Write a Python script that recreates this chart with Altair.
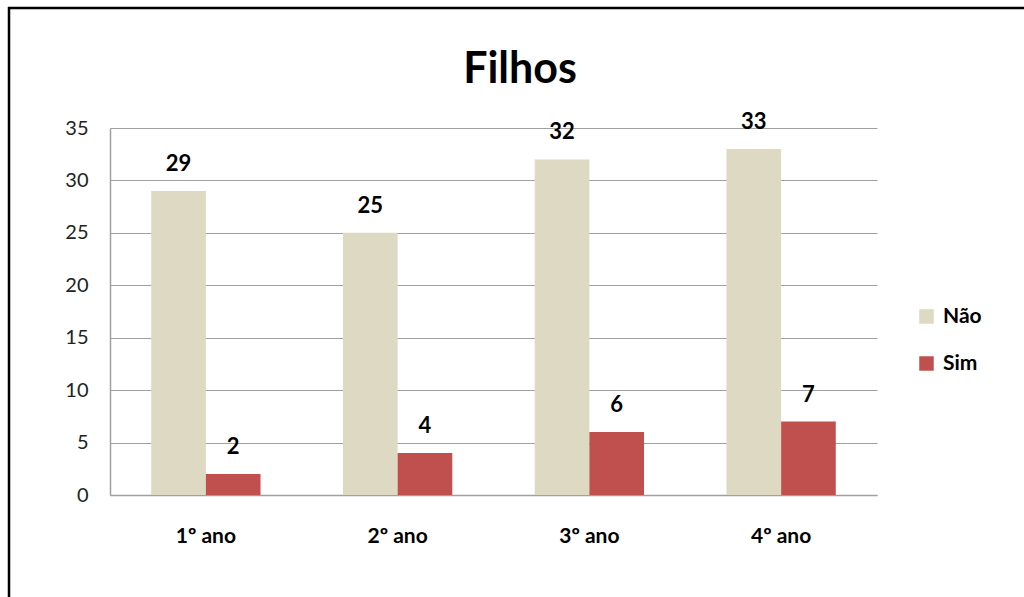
import altair as alt
import pandas as pd

# Number of students with / without children per school year
anos = ["1º ano", "2º ano", "3º ano", "4º ano"]
series = ["Não", "Sim"]
nao = [29, 25, 32, 33]
sim = [2, 4, 6, 7]
cores = ["#DDD9C3", "#C0504D"]
titulo = "Filhos"

rows = []
for i, ano in enumerate(anos):
    rows.append({"ano": ano, "serie": "Não", "valor": nao[i]})
    rows.append({"ano": ano, "serie": "Sim", "valor": sim[i]})
df = pd.DataFrame(rows)

FONT = "Lato"

base = alt.Chart(df).encode(
    x=alt.X(
        "ano:N",
        sort=anos,
        title=None,
        scale=alt.Scale(paddingInner=0.43, paddingOuter=0.215),
        axis=alt.Axis(
            labelAngle=0,
            labelFontSize=21,
            labelFontWeight="bold",
            labelColor="#000000",
            labelPadding=30,
            ticks=False,
            domainColor="#a0a0a0",
            domainWidth=1.5,
        ),
    ),
    xOffset=alt.XOffset("serie:N", sort=series),
)

bars = base.mark_bar().encode(
    y=alt.Y(
        "valor:Q",
        title=None,
        scale=alt.Scale(domain=[0, 35], nice=False),
        axis=alt.Axis(
            values=[0, 5, 10, 15, 20, 25, 30, 35],
            labelFontSize=20,
            labelColor="#222222",
            labelPadding=22,
            ticks=False,
            gridColor="#a0a0a0",
            gridWidth=1.2,
            domainColor="#a0a0a0",
            domainWidth=1.5,
        ),
    ),
    color=alt.Color(
        "serie:N",
        sort=series,
        scale=alt.Scale(domain=series, range=cores),
        legend=alt.Legend(
            title=None,
            orient="none",
            legendX=806,
            legendY=178,
            symbolType="square",
            symbolSize=210,
            symbolStrokeWidth=0,
            labelFontSize=21,
            labelFontWeight="bold",
            labelColor="#000000",
            labelOffset=6,
            rowPadding=25,
        ),
    ),
)

rotulos = base.mark_text(
    baseline="bottom", dy=-15, fontSize=22, fontWeight="bold", color="#000000", font=FONT
).encode(
    y=alt.Y("valor:Q"),
    text=alt.Text("valor:Q"),
)

aux_df = pd.DataFrame({"k": [0]})

# Chart title, centred over the whole frame
titulo_txt = alt.Chart(aux_df).mark_text(
    text=titulo, fontSize=43, fontWeight="bold", font=FONT, color="#000000",
    align="center", baseline="middle",
).encode(x=alt.value(410), y=alt.value(-58))

# Outer frame (left and top edges)
borda_esq = alt.Chart(aux_df).mark_rule(color="#000000", strokeWidth=2.5).encode(
    x=alt.value(-101), y=alt.value(-121), y2=alt.value(480)
)
borda_top = alt.Chart(aux_df).mark_rule(color="#000000", strokeWidth=2.5).encode(
    x=alt.value(-102), x2=alt.value(920), y=alt.value(-120)
)

chart = (
    alt.layer(bars, rotulos, titulo_txt, borda_esq, borda_top)
    .properties(
        width=767,
        height=367,
        autosize=alt.AutoSizeParams(type="none"),
        padding={"left": 110, "top": 128, "right": 147, "bottom": 102},
    )
    .configure(font=FONT)
    .configure_view(stroke=None)
    .configure_axis(labelFont=FONT)
    .configure_legend(labelFont=FONT)
)

chart.save("out.html", embed_options={"renderer": "svg", "actions": False})
